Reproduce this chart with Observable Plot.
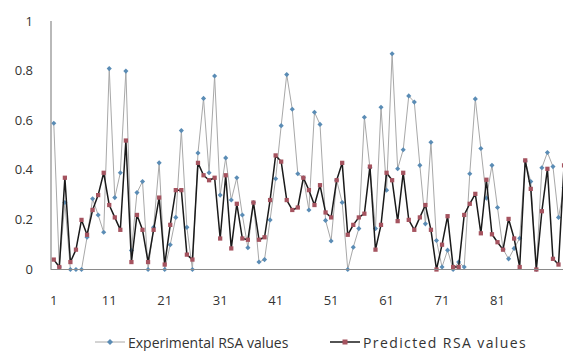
<!DOCTYPE html>
<html><head><meta charset="utf-8">
<script src="https://cdn.jsdelivr.net/npm/d3@7"></script>
<script src="https://cdn.jsdelivr.net/npm/@observablehq/plot@0.6"></script>
<style>
body{margin:0;background:#fff;font-family:"Open Sans",sans-serif;}
#wrap{position:relative;width:563px;height:351px;overflow:hidden;background:#fff}
#legend{position:absolute;left:0;top:318px;width:563px;height:33px;font-size:14px;color:#333}
.item{position:absolute;top:15px;height:18px;display:flex;align-items:center;white-space:nowrap}
.item svg{margin-right:3px}
</style></head><body><div id="wrap"><div id="chart"></div><div id="legend"></div></div>
<script>
const experimental = [0.59,0.01,0.27,0.0,0.0,0.0,0.13,0.285,0.22,0.15,
  0.81,0.29,0.39,0.80,0.077,0.31,0.355,0.0,0.17,0.43,
  0.0,0.1,0.21,0.56,0.17,0.0,0.47,0.69,0.39,0.78,
  0.30,0.45,0.28,0.37,0.22,0.088,0.27,0.03,0.04,0.2,
  0.366,0.58,0.786,0.646,0.386,0.37,0.24,0.634,0.585,0.198,
  0.115,0.36,0.27,0.0,0.09,0.165,0.614,0.41,0.165,0.654,
  0.32,0.87,0.406,0.483,0.70,0.675,0.42,0.184,0.513,0.117,
  0.01,0.078,0.0,0.03,0.01,0.386,0.688,0.488,0.288,0.42,
  0.25,0.082,0.043,0.085,0.126,0.437,0.355,0.0,0.41,0.472,
  0.415,0.21,0.33];
const predicted = [0.04,0.01,0.37,0.03,0.08,0.20,0.14,0.24,0.30,0.39,
  0.26,0.21,0.16,0.52,0.03,0.22,0.16,0.03,0.16,0.29,
  0.02,0.18,0.32,0.32,0.06,0.04,0.43,0.38,0.36,0.37,
  0.125,0.38,0.085,0.265,0.125,0.12,0.27,0.12,0.13,0.28,
  0.46,0.435,0.28,0.24,0.25,0.37,0.32,0.26,0.34,0.23,
  0.21,0.36,0.43,0.14,0.18,0.21,0.225,0.415,0.08,0.18,
  0.39,0.36,0.195,0.39,0.20,0.16,0.21,0.26,0.16,0.0,
  0.10,0.215,0.01,0.01,0.22,0.265,0.305,0.146,0.362,0.142,
  0.11,0.08,0.204,0.125,0.01,0.44,0.325,0.0,0.235,0.406,
  0.043,0.02,0.42];
const xTicks = [1,11,21,31,41,51,61,71,81];
const yTicks = [0,0.2,0.4,0.6,0.8,1];
const yTickLabels = ["0","0.2","0.4","0.6","0.8","1"];
const seriesNames = ["Experimental RSA values","Predicted RSA values"];

const rows = experimental.map((v, k) => ({i: k + 1, exp: v, pred: predicted[k]}));
const expColor = "#a8a8a8", expMarker = "#5a8cb5";
const predColor = "#1a1a1a", predMarker = "#a5535f";
const axisColor = "#8a8a8a";

const plot = Plot.plot({
  width: 563, height: 318,
  marginLeft: 50.5, marginRight: 0, marginTop: 21, marginBottom: 49,
  style: {fontFamily: "Open Sans", fontSize: "13px", color: "#333", background: "#fff"},
  x: {domain: [0.5, 92.9], label: null},
  y: {domain: [0, 1], label: null},
  marks: [
    Plot.line(rows, {x: "i", y: "exp", stroke: expColor, strokeWidth: 1}),
    Plot.dot(rows, {x: "i", y: "exp", symbol: "diamond2", r: 2.3, fill: expMarker, stroke: "none"}),
    Plot.line(rows, {x: "i", y: "pred", stroke: predColor, strokeWidth: 1.5}),
    Plot.dot(rows, {x: "i", y: "pred", symbol: "square", r: 2.4, fill: predMarker, stroke: "none"}),
    Plot.ruleY([0], {stroke: axisColor, strokeWidth: 1.2}),
    Plot.ruleX([0.5], {y1: 0, y2: 1, stroke: axisColor, strokeWidth: 1.2}),
    Plot.axisX({ticks: xTicks, tickSize: 0, tickPadding: 26, fontSize: 13, fill: "#333", label: null}),
    Plot.axisY({ticks: yTicks, tickFormat: (d, k) => yTickLabels[k], tickSize: 0, tickPadding: 18, fontSize: 13, fill: "#333", label: null})
  ]
});
document.getElementById("chart").appendChild(plot);

// legend
const legend = d3.select("#legend");
const items = [
  {name: seriesNames[0], line: expColor, marker: expMarker, sym: "diamond", left: 95, ls: "0px"},
  {name: seriesNames[1], line: predColor, marker: predMarker, sym: "square", left: 330, ls: "1.4px"}
];
items.forEach(it => {
  const div = legend.append("div").attr("class", "item").style("left", it.left + "px");
  const s = div.append("svg").attr("width", 30).attr("height", 12);
  s.append("line").attr("x1", 0).attr("x2", 30).attr("y1", 6).attr("y2", 6)
    .attr("stroke", it.line).attr("stroke-width", it.sym === "square" ? 1.5 : 1);
  if (it.sym === "square") s.append("rect").attr("x", 12.5).attr("y", 3.5).attr("width", 5).attr("height", 5).attr("fill", it.marker);
  else s.append("path").attr("d", "M15,3L18,6L15,9L12,6Z").attr("fill", it.marker);
  div.append("span").style("letter-spacing", it.ls).text(it.name);
});
</script></body></html>
